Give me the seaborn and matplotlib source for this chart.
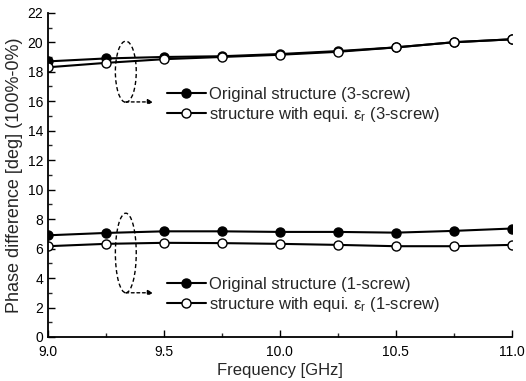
import numpy as np
import pandas as pd
import matplotlib
matplotlib.use("Agg")
import matplotlib.pyplot as plt
import seaborn as sns
from matplotlib.patches import Ellipse
from matplotlib.lines import Line2D

# Frequency sweep and measured phase differences
freq = [9.0, 9.25, 9.5, 9.75, 10.0, 10.25, 10.5, 10.75, 11.0]
orig_3screw = [18.7, 18.9, 19.0, 19.05, 19.2, 19.4, 19.65, 20.0, 20.2]
equi_3screw = [18.3, 18.6, 18.85, 19.0, 19.15, 19.35, 19.65, 20.0, 20.2]
orig_1screw = [6.9, 7.06, 7.17, 7.17, 7.13, 7.13, 7.08, 7.2, 7.36]
equi_1screw = [6.16, 6.32, 6.39, 6.37, 6.32, 6.25, 6.16, 6.16, 6.25]

labels_3 = ["Original structure (3-screw)",
            r"structure with equi. $\mathrm{\varepsilon}_\mathrm{r}$ (3-screw)"]
labels_1 = ["Original structure (1-screw)",
            r"structure with equi. $\mathrm{\varepsilon}_\mathrm{r}$ (1-screw)"]
yticks = [0, 2, 4, 6, 8, 10, 12, 14, 16, 18, 20, 22]
xticks = [9.0, 9.5, 10.0, 10.5, 11.0]

sns.set_theme(style="ticks")
plt.rcParams["font.family"] = ["Liberation Sans", "DejaVu Sans"]
plt.rcParams["mathtext.fontset"] = "custom"
plt.rcParams["mathtext.rm"] = "Liberation Sans"
plt.rcParams["mathtext.it"] = "Liberation Sans:italic"

fig = plt.figure(figsize=(5.26, 3.81), dpi=100)
ax = fig.add_axes([0.091, 0.1155, 0.882, 0.851])

series = [
    (orig_3screw, "black"),
    (equi_3screw, "white"),
    (orig_1screw, "black"),
    (equi_1screw, "white"),
]
for vals, face in series:
    df = pd.DataFrame({"f": freq, "p": vals})
    sns.lineplot(data=df, x="f", y="p", ax=ax, color="black", lw=1.5,
                 marker="o", markersize=6.5, markerfacecolor=face,
                 markeredgecolor="black", markeredgewidth=1.0)

ax.set_xlim(9.0, 11.0)
ax.set_ylim(0, 22)
ax.set_xticks(xticks)
ax.set_xticklabels([f"{t:.1f}" for t in xticks])
ax.set_yticks(yticks)
ax.set_xticks(np.arange(9.0, 11.01, 0.25), minor=True)
ax.set_yticks(np.arange(0, 22.1, 1), minor=True)
ax.tick_params(direction="in", which="major", length=5, width=1, labelsize=10, colors="black")
ax.tick_params(axis="x", which="major", pad=6)
ax.tick_params(direction="in", which="minor", length=3, width=1)
for s in ["top", "right"]:
    ax.spines[s].set_visible(False)
for s in ["left", "bottom"]:
    ax.spines[s].set_linewidth(1.3)
    ax.spines[s].set_color("black")
ax.set_xlabel("Frequency [GHz]", fontsize=12, labelpad=3)
ax.set_ylabel("Phase difference [deg] (100%-0%)", fontsize=13, labelpad=3)


def handles():
    return [
        Line2D([], [], color="black", lw=1.5, marker="o", markersize=6.5,
               markerfacecolor="black", markeredgecolor="black"),
        Line2D([], [], color="black", lw=1.5, marker="o", markersize=6.5,
               markerfacecolor="white", markeredgecolor="black"),
    ]


leg_kw = dict(frameon=False, fontsize=12, handlelength=2.35, handletextpad=0.2,
              labelspacing=0.2, borderpad=0, borderaxespad=0, loc="upper left")
leg1 = ax.legend(handles(), labels_3, bbox_to_anchor=(0.256, 0.772), **leg_kw)
ax.add_artist(leg1)
ax.legend(handles(), labels_1, bbox_to_anchor=(0.256, 0.186), **leg_kw)

# Dashed group markers with arrows pointing to each legend
for cy, h, ybot in [(18.0, 4.15, 15.95), (5.7, 5.4, 3.0)]:
    ax.add_patch(Ellipse((9.336, cy), 0.09, h, fill=False, ls=(0, (3, 2)),
                         lw=1.0, ec="black"))
    ax.annotate("", xy=(9.455, ybot), xytext=(9.336, ybot),
                arrowprops=dict(arrowstyle="-|>", ls=(0, (2, 2)), lw=1.0,
                                color="black", mutation_scale=8,
                                shrinkA=0, shrinkB=0))

fig.savefig("out.png", dpi=100)
